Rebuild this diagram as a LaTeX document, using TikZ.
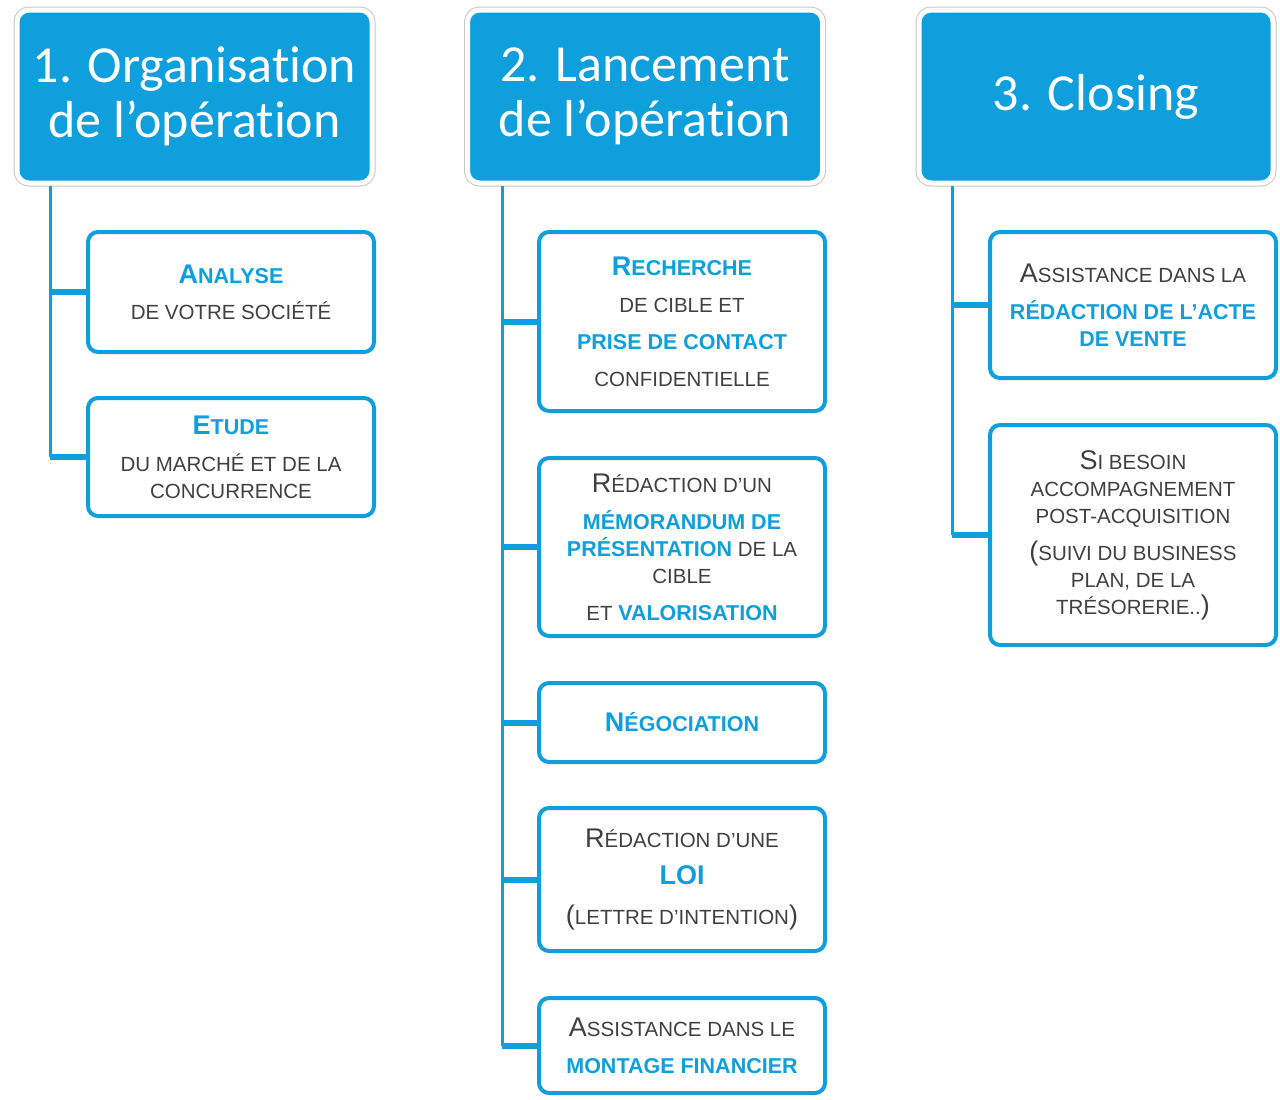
\documentclass[tikz,border=0pt]{standalone}
\usepackage{fontspec}
\setmainfont{Liberation Sans}
\newfontfamily\headfont[Ligatures=NoCommon]{Carlito}
\definecolor{stepblue}{RGB}{14,159,220}
\definecolor{textgray}{RGB}{64,64,64}
\newcommand{\gr}[1]{{\color{textgray}#1}}
\newcommand{\bl}[1]{{\color{stepblue}\bfseries\fontsize{21.5}{27}\selectfont #1}}
\newcommand{\ini}[1]{{\fontsize{27}{27}\selectfont #1}}
\tikzset{
    phase/.style={fill=stepblue,draw=white,line width=5pt,rounded corners=12pt,
        preaction={draw=black!22,line width=7pt},
        text=white,align=center,inner sep=0pt,
        font=\headfont\fontsize{52}{55}\selectfont},
    task/.style={draw=stepblue,line width=4pt,fill=white,rounded corners=10pt,
        align=center,inner sep=0pt,text=textgray,
        font=\fontsize{20.5}{27}\selectfont},
    trunk/.style={stepblue,line width=3pt},
    branch/.style={stepblue,line width=6pt}
}

\begin{document}
\begin{tikzpicture}[x=1pt,y=-1pt]
    \fill[white] (0,0) rectangle (1280,1100);
    \useasboundingbox (0,0) rectangle (1280,1100);

    % headers
    \node[phase,minimum width=355,minimum height=173] (h1) at (194.5,96.5) {1. Organisation\\de l’opération};
    \node[phase,minimum width=355,minimum height=173] (h2) at (645,96.5) {2. Lancement\\de l’opération};
    \node[phase,minimum width=354,minimum height=173] (h3) at (1096,96.5) {3. Closing};

    % column 1
    \node[task,minimum width=286,minimum height=120] (a1) at (231,292) {\bl{\ini{A}NALYSE}\\[9pt]\gr{DE VOTRE SOCIÉTÉ}};
    \node[task,minimum width=286,minimum height=118] (e1) at (231,457) {\bl{\ini{E}TUDE}\\[10pt]\gr{DU MARCHÉ ET DE LA}\\\gr{CONCURRENCE}};

    % column 2
    \node[task,minimum width=286,minimum height=179] (r1) at (682,321.5) {\bl{\ini{R}ECHERCHE}\\[10pt]\gr{DE CIBLE ET}\\[10pt]\bl{PRISE DE CONTACT}\\[10pt]\gr{CONFIDENTIELLE}};
    \node[task,minimum width=286,minimum height=178] (m1) at (682,547) {\gr{\ini{R}ÉDACTION D’UN}\\[10pt]\bl{MÉMORANDUM DE}\\\bl{PRÉSENTATION} \gr{DE LA}\\\gr{CIBLE}\\[10pt]\gr{ET} \bl{VALORISATION}};
    \node[task,minimum width=286,minimum height=79] (n1) at (682,722.5) {\bl{\ini{N}ÉGOCIATION}};
    \node[task,minimum width=286,minimum height=143] (l1) at (682,879.5) {\gr{\ini{R}ÉDACTION D’UNE}\\[10pt]\bl{\ini{LOI}}\\[13pt]\gr{\ini{(}LETTRE D’INTENTION\ini{)}}};
    \node[task,minimum width=286,minimum height=95] (f1) at (682,1045.5) {\gr{\ini{A}SSISTANCE DANS LE}\\[10pt]\bl{MONTAGE FINANCIER}};

    % column 3
    \node[task,minimum width=286,minimum height=146] (v1) at (1133,305) {\gr{\ini{A}SSISTANCE DANS LA}\\[10pt]\bl{RÉDACTION DE L’ACTE}\\\bl{DE VENTE}};
    \node[task,minimum width=286,minimum height=220] (s1) at (1133,535) {\gr{\ini{S}I BESOIN}\\\gr{ACCOMPAGNEMENT}\\\gr{POST-ACQUISITION}\\[10pt]\gr{\ini{(}SUIVI DU BUSINESS}\\\gr{PLAN, DE LA}\\\gr{TRÉSORERIE..\ini{)}}};

    % connectors
    \coordinate (t1) at (50,186);
    \coordinate (t2) at (502,186);
    \coordinate (t3) at (952,186);
    \draw[trunk] (t1) -- (t1 |- e1.west);
    \draw[trunk] (t2) -- (t2 |- f1.west);
    \draw[trunk] (t3) -- (t3 |- s1.west);
    \foreach \t/\b in {t1/a1,t1/e1,t2/r1,t2/m1,t2/n1,t2/l1,t2/f1,t3/v1,t3/s1}
        \draw[branch] (\t |- \b.west) -- (\b.west);
\end{tikzpicture}
\end{document}
